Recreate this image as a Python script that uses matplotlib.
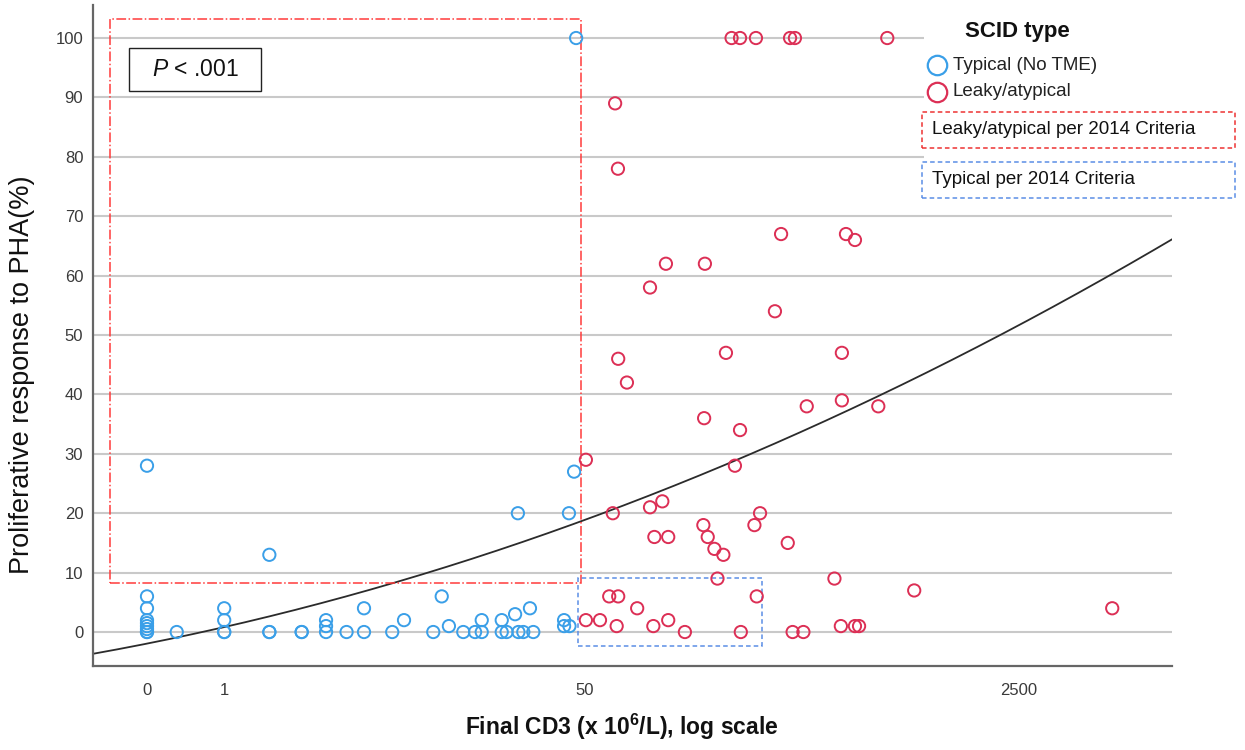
import numpy as np
import matplotlib
matplotlib.use("Agg")
import matplotlib.pyplot as plt
from matplotlib.patches import Rectangle
from matplotlib.lines import Line2D

plt.rcParams['font.family'] = ['Liberation Sans', 'DejaVu Sans']
plt.rcParams['mathtext.fontset'] = 'custom'
plt.rcParams['mathtext.rm'] = 'Liberation Sans'
plt.rcParams['mathtext.it'] = 'Liberation Sans:italic'
plt.rcParams['mathtext.bf'] = 'Liberation Sans:bold'

# x values are log10(CD3 + 1), y is % response to PHA
typical_x = [0, 0, 0, 0, 0, 0, 0, 0, 0,
             0.116,
             0.301, 0.301, 0.301, 0.301,
             0.477, 0.477, 0.477,
             0.603, 0.603,
             0.698, 0.698, 0.698,
             0.778,
             0.846, 0.846,
             0.956, 1.002, 1.116, 1.149, 1.177, 1.233, 1.279,
             1.305, 1.305,
             1.383, 1.383,
             1.402, 1.435, 1.446, 1.448, 1.467, 1.493, 1.506,
             1.626, 1.626,
             1.645, 1.647, 1.665, 1.673]
typical_y = [28, 6, 4, 2, 1.5, 1, 0.5, 0, 0,
             0,
             4, 2, 0, 0,
             13, 0, 0,
             0, 0,
             2, 1, 0,
             0,
             4, 0,
             0, 2, 0, 6, 1, 0, 0,
             2, 0,
             2, 0,
             0, 3, 20, 0, 0, 4, 0,
             2, 1,
             20, 1, 27, 100]

leaky_x = [1.711, 1.711, 1.766, 1.802, 1.816, 1.825, 1.831, 1.836, 1.837, 1.837,
           1.871, 1.911, 1.961, 1.961, 1.974, 1.978, 2.009, 2.023, 2.032, 2.032,
           2.097, 2.169, 2.172, 2.175, 2.186, 2.212, 2.224, 2.247, 2.257, 2.279,
           2.292, 2.312, 2.312, 2.315, 2.368, 2.374, 2.377, 2.390, 2.448, 2.472,
           2.498, 2.507, 2.517, 2.526, 2.559, 2.572, 2.680, 2.705, 2.709, 2.709,
           2.725, 2.760, 2.760, 2.776, 2.851, 2.886, 2.991, 3.763]
leaky_y = [29, 2, 2, 6, 20, 89, 1, 78, 6, 46,
           42, 4, 58, 21, 1, 16, 22, 62, 16, 2,
           0, 18, 36, 62, 16, 14, 9, 13, 47, 100,
           28, 100, 34, 0, 18, 100, 6, 20, 54, 67,
           15, 100, 0, 100, 0, 38, 9, 1, 47, 39,
           67, 66, 1, 1, 38, 100, 7, 4]

# quadratic fit line (SPSS) coefficients: a + b*u + c*u^2
fit_coef = [-1.95, 8.6, 2.11]

tick_values = [0, 1, 50, 2500]
tick_labels = ['0', '1', '50', '2500']

blue = '#3a9fe8'
red = '#dc2f55'

W, H = 1245, 750
fig = plt.figure(figsize=(W / 100, H / 100), dpi=100)
ax = fig.add_axes([93 / W, 1 - 666 / H, (1172 - 93) / W, (666 - 5) / H])


def fx(px):
    return px / W


def fy(py):
    return 1 - py / H


ax.set_xlim(-0.2105, 3.996)
ax.set_ylim(-5.72, 105.56)

ax.set_yticks(np.arange(0, 101, 10))
ax.set_xticks(np.log10(np.array(tick_values) + 1))
ax.set_xticklabels(tick_labels)
ax.tick_params(axis='both', length=0, labelsize=12, colors='#3a3a3a')
ax.tick_params(axis='y', pad=7)
ax.tick_params(axis='x', pad=12)
ax.yaxis.grid(True, color='#c9c9c9', lw=1.5, zorder=0)
ax.set_axisbelow(True)
for s in ['top', 'right']:
    ax.spines[s].set_visible(False)
for s in ['left', 'bottom']:
    ax.spines[s].set_color('#666666')
    ax.spines[s].set_linewidth(1.6)

# fit line
u = np.linspace(-0.2105, 3.996, 300)
ax.plot(u, fit_coef[0] + fit_coef[1] * u + fit_coef[2] * u ** 2,
        color='#2b2b2b', lw=1.3, zorder=2)

ax.scatter(typical_x, typical_y, s=78, facecolors='none', edgecolors=blue,
           linewidths=1.4, zorder=3)
ax.scatter(leaky_x, leaky_y, s=78, facecolors='none', edgecolors=red,
           linewidths=1.4, zorder=3)

# criteria boxes
ax.add_patch(Rectangle((-0.144, 8.2), 1.692 + 0.144, 103.2 - 8.2, fill=False,
                       ec='#ff3b3b', ls='-.', lw=1.1, zorder=2))
ax.add_patch(Rectangle((1.682, -2.3), 2.396 - 1.682, 9.04 + 2.3, fill=False,
                       ec='#5b8ee6', ls=(0, (3, 2)), lw=1.1, zorder=2))

# P value box
fig.add_artist(Rectangle((fx(129), fy(91)), fx(261) - fx(129), fy(48) - fy(91),
                         transform=fig.transFigure, fill=True, fc='white',
                         ec='#222222', lw=1.0))
fig.text(fx(195), fy(70), r'$\mathit{P}$ < .001', ha='center', va='center',
         fontsize=16.5, color='#111111')

# legend area
fig.add_artist(Rectangle((fx(924), fy(205)), fx(1245) - fx(924), fy(0) - fy(205),
                         transform=fig.transFigure, fc='white', ec='none'))
fig.text(fx(1017), fy(32), 'SCID type', ha='center', va='center',
         fontsize=16, fontweight='bold', color='#111111')
for yy, col, lab in [(65, blue, 'Typical (No TME)'), (92, red, 'Leaky/atypical')]:
    fig.add_artist(Line2D([fx(937)], [fy(yy)], marker='o', ms=14, mfc='none',
                          mec=col, mew=1.6, transform=fig.transFigure))
    fig.text(fx(953), fy(yy), lab, ha='left', va='center', fontsize=13.5,
             color='#222222')

for top, bot, col, lab in [(112, 148, '#ee3333', 'Leaky/atypical per 2014 Criteria'),
                           (162, 198, '#5b8ee6', 'Typical per 2014 Criteria')]:
    fig.add_artist(Rectangle((fx(922), fy(bot)), fx(1235) - fx(922), fy(top) - fy(bot),
                             transform=fig.transFigure, fill=False, ec=col,
                             ls=(0, (3, 2)), lw=1.1))
    fig.text(fx(932), fy((top + bot) / 2), lab, ha='left', va='center',
             fontsize=13.5, color='#111111')

fig.text(fx(22), fy(375), 'Proliferative response to PHA(%)', rotation=90,
         ha='center', va='center', fontsize=19.5, color='#111111')
fig.text(fx(622), fy(727), r'Final CD3 (x 10$^{\mathbf{6}}$/L), log scale',
         ha='center', va='center', fontsize=16.5, fontweight='bold',
         color='#111111')

fig.savefig('out.png', dpi=100)
